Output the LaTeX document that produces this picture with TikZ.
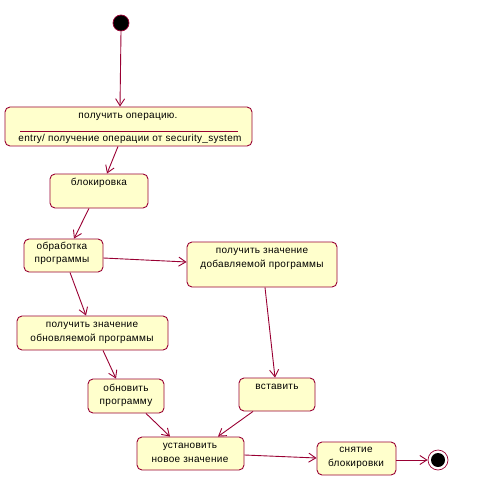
\documentclass[tikz,border=0pt]{standalone}
\usepackage{fontspec}
\setmainfont{Liberation Sans}[LetterSpace=3]
\usetikzlibrary{arrows.meta}
\definecolor{umlline}{HTML}{990033}
\definecolor{umlfill}{HTML}{FFFFCC}
\tikzset{
  state/.style={draw=umlline, fill=umlfill, rounded corners=5pt, line width=0.9pt, inner sep=0pt},
  txt/.style={font=\fontsize{10}{13.5}\selectfont, align=center, inner sep=0pt, anchor=base},
  conn/.style={draw=umlline, line width=0.9pt, -{Straight Barb[length=7pt,width=9pt,line width=0.9pt]}},
}
\begin{document}
\begin{tikzpicture}[x=1pt,y=-1pt]
\useasboundingbox (0,0) rectangle (478,481);
% states
\node[state, minimum width=247pt, minimum height=39pt] (op) at (128.5,126.5) {};
\draw[umlline, line width=0.9pt] (20,131) -- (238,131);
\node[txt] (opt) at (128,119) {получить операцию.};
\node[txt] (ope) at (130,141.5) {entry/ получение операции от security\_system};

\node[state, minimum width=98pt, minimum height=34pt] (blk) at (99,191) {};
\node[txt] (blkt) at (99,185) {блокировка};

\node[state, minimum width=79pt, minimum height=33pt] (obr) at (63.5,255.5) {};
\node[txt] (obrt) at (62,262.5) {обработка\\программы};

\node[state, minimum width=150pt, minimum height=45pt] (dob) at (262,264.5) {};
\node[txt] (dobt) at (262,267) {получить значение\\добавляемой программы};

\node[state, minimum width=151pt, minimum height=34pt] (obn) at (92.5,333) {};
\node[txt] (obnt) at (92,341) {получить значение\\обновляемой программы};

\node[state, minimum width=76pt, minimum height=34pt] (upd) at (126,396) {};
\node[txt] (updt) at (126,404.5) {обновить\\программу};

\node[state, minimum width=76pt, minimum height=33pt] (ins) at (277,394.5) {};
\node[txt] (inst) at (277,389) {вставить};

\node[state, minimum width=107pt, minimum height=33pt] (set) at (190.5,453.5) {};
\node[txt] (sett) at (190,462) {установить\\новое значение};

\node[state, minimum width=79pt, minimum height=33pt] (unl) at (356.5,458.5) {};
\node[txt] (unlt) at (356,466) {снятие\\блокировки};

% initial and final
\node[circle, fill=black, draw=umlline, line width=0.7pt, minimum size=16pt, inner sep=0pt] (start) at (121,23) {};
\node[circle, draw=umlline, fill=white, line width=0.7pt, minimum size=20pt, inner sep=0pt] (end) at (438,460) {};
\node[circle, fill=black, minimum size=14pt, inner sep=0pt] (endin) at (438,460) {};

% connectors
\draw[conn] (start.south) -- ([xshift=-8.5pt]op.north);
\draw[conn] ([xshift=-10.5pt]op.south) -- ([xshift=8pt]blk.north);
\draw[conn] ([xshift=-10pt]blk.south) -- ([xshift=10.5pt]obr.north);
\draw[conn] ([yshift=-2.5pt]obr.east) -- ([yshift=2.5pt]dob.west);
\draw[conn] ([xshift=6.5pt]obr.south) -- ([xshift=-6.5pt]obn.north);
\draw[conn] ([xshift=10.5pt]obn.south) -- ([xshift=-10pt]upd.north);
\draw[conn] ([xshift=3pt]dob.south) -- ([xshift=-2pt]ins.north);
\draw[conn] ([xshift=20pt]upd.south) -- ([xshift=-20.5pt]set.north);
\draw[conn] ([xshift=-24pt]ins.south) -- ([xshift=27.5pt]set.north);
\draw[conn] ([yshift=-1.5pt]set.east) -- ([yshift=0.5pt]unl.west);
\draw[conn] ([yshift=-1.5pt]unl.east) -- (end.west);
\end{tikzpicture}
\end{document}
